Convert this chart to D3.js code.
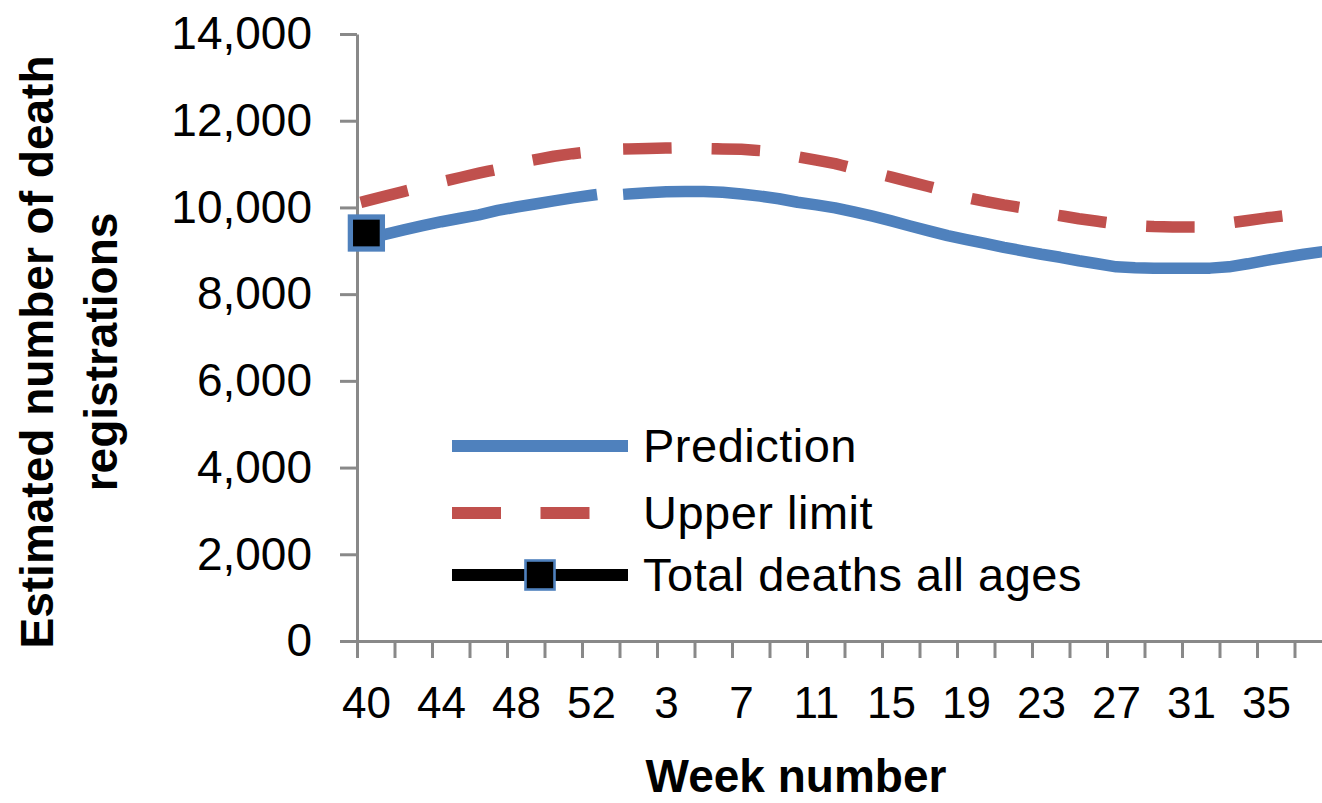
<!DOCTYPE html>
<html>
<head>
<meta charset="utf-8">
<script src="https://cdn.jsdelivr.net/npm/d3@7"></script>
<style>
  html, body { margin: 0; padding: 0; background: #ffffff; }
  svg { display: block; }
  text { font-family: "Liberation Sans", Arial, sans-serif; fill: #000; }
</style>
</head>
<body>
<svg id="chart" width="1322" height="803"></svg>
<script>
// ---- data ----
const weeks = [40,41,42,43,44,45,46,47,48,49,50,51,52,53,
  1,2,3,4,5,6,7,8,9,10,11,12,13,14,15,16,17,18,19,20,
  21,22,23,24,25,26,27,28,29,30,31,32,33,34,35,36,37,38,39];

const prediction = [9280,9380,9480,9580,9670,9750,9830,9930,10010,10080,10150,10220,10280,null,
  10310,10340,10360,10370,10370,10350,10310,10260,10200,10120,10060,9990,9900,9800,9690,9570,
  9460,9350,9260,9170,9080,9000,8920,8850,8770,8700,8630,8610,8600,8600,8600,8600,8630,8700,
  8780,8850,8920,8980,9040];

const upperLimit = [10150,10260,10370,10480,10590,10690,10790,10880,10990,11100,11180,11240,11290,null,
  11350,11360,11370,11370,11360,11350,11340,11310,11250,11170,11090,11010,10900,10800,10700,10590,
  10480,10360,10230,10140,10060,9990,9900,9810,9740,9680,9620,9580,9560,9550,9550,9570,9640,9700,
  9760,9810,9850,9880,9900];

const totalDeaths = [9410]; // only week 40 reported

const yTicks = [0,2000,4000,6000,8000,10000,12000,14000];
const xLabelWeeks = [40,44,48,52,3,7,11,15,19,23,27,31,35];

const seriesNames = ["Prediction", "Upper limit", "Total deaths all ages"];
const colors = { pred: "#4F81BD", upper: "#C0504D", total: "#000000", axis: "#898989" };

// ---- layout ----
(function draw() {
const svg = d3.select("#chart");
const pLeft = 357, pTop = 34, pBottom = 641, catW = 18.75;
const pRight = pLeft + weeks.length * catW;

const idx = d3.range(weeks.length);
const xBand = d3.scaleBand().domain(idx).range([pLeft, pRight]).paddingInner(0).paddingOuter(0);
const xLin = d3.scaleLinear().domain([0, weeks.length]).range([pLeft, pRight]);
const y = d3.scaleLinear().domain([0, 14000]).range([pBottom, pTop]);
const cx = i => xBand(i) + xBand.bandwidth() / 2;

svg.append("rect").attr("width", 1322).attr("height", 803).attr("fill", "#fff");

// y axis
const yAxis = svg.append("g").attr("transform", `translate(${pLeft},0)`)
  .call(d3.axisLeft(y).tickValues(yTicks).tickSize(17).tickSizeOuter(0).tickPadding(28)
    .tickFormat(d3.format(",")));
yAxis.selectAll("path, line").attr("stroke", colors.axis).attr("stroke-width", 3);
yAxis.selectAll("text").style("font-size", "46px").style("font-family", "'Liberation Sans', Arial, sans-serif").attr("fill", "#000");

// x axis ticks (category boundaries every 2 weeks)
const xTickAxis = svg.append("g").attr("transform", `translate(0,${pBottom})`)
  .call(d3.axisBottom(xLin).tickValues(d3.range(0, weeks.length, 2)).tickSize(17)
    .tickSizeOuter(0).tickFormat(""));
xTickAxis.selectAll("path, line").attr("stroke", colors.axis).attr("stroke-width", 3);

// x axis labels (category centers)
const labelIdx = idx.filter(i => i % 4 === 0 && xLabelWeeks.includes(weeks[i]));
const xLabelAxis = svg.append("g").attr("transform", `translate(0,${pBottom})`)
  .call(d3.axisBottom(xBand).tickValues(labelIdx).tickSize(0).tickPadding(46)
    .tickFormat(i => weeks[i]));
xLabelAxis.select(".domain").remove();
xLabelAxis.selectAll("text").style("font-size", "44px").style("font-family", "'Liberation Sans', Arial, sans-serif").attr("fill", "#000");

// axis titles
const yTitle = svg.append("text")
  .attr("transform", "rotate(-90)")
  .attr("text-anchor", "middle")
  .style("font-size", "46px").style("font-weight", "bold");
yTitle.append("tspan").attr("x", -352).attr("y", 53).text("Estimated number of death");
yTitle.append("tspan").attr("x", -352).attr("y", 117).text("registrations");

svg.append("text").attr("x", 796).attr("y", 792).attr("text-anchor", "middle")
  .style("font-size", "46px").style("font-weight", "bold").text("Week number");

// lines
const line = d3.line().defined(d => d[1] != null).x(d => cx(d[0])).y(d => y(d[1]));
const plot = svg.append("g");

plot.append("path").datum(prediction.map((v, i) => [i, v]))
  .attr("d", line).attr("fill", "none").attr("stroke", colors.pred)
  .attr("stroke-width", 11.5).attr("stroke-linecap", "square").attr("stroke-linejoin", "round");

// upper limit drawn per defined run so dashing restarts after the gap
const upperRuns = [];
let run = [];
upperLimit.forEach((v, i) => {
  if (v == null) { if (run.length) upperRuns.push(run); run = []; }
  else run.push([i, v]);
});
if (run.length) upperRuns.push(run);
plot.selectAll(".upper").data(upperRuns).join("path").attr("class", "upper")
  .attr("d", line).attr("fill", "none").attr("stroke", colors.upper)
  .attr("stroke-width", 11.5).attr("stroke-linecap", "square").attr("stroke-linejoin", "round")
  .attr("stroke-dasharray", "37 51.5");

const totalPts = totalDeaths.map((v, i) => [i, v]);
plot.append("path").datum(totalPts).attr("d", line).attr("fill", "none")
  .attr("stroke", colors.total).attr("stroke-width", 11.5);
plot.selectAll(".mk").data(totalPts).join("rect").attr("class", "mk")
  .attr("x", d => cx(d[0]) - 16).attr("y", d => y(d[1]) - 16)
  .attr("width", 32).attr("height", 32)
  .attr("fill", "#000").attr("stroke", colors.pred).attr("stroke-width", 5.3);

// legend
const legY = [446, 513, 575];
const lg = svg.append("g");
lg.append("line").attr("x1", 458).attr("x2", 622).attr("y1", legY[0]).attr("y2", legY[0])
  .attr("stroke", colors.pred).attr("stroke-width", 12).attr("stroke-linecap", "square");
lg.append("line").attr("x1", 458).attr("x2", 622).attr("y1", legY[1]).attr("y2", legY[1])
  .attr("stroke", colors.upper).attr("stroke-width", 12).attr("stroke-linecap", "square")
  .attr("stroke-dasharray", "37 51.5");
lg.append("line").attr("x1", 458).attr("x2", 622).attr("y1", legY[2]).attr("y2", legY[2])
  .attr("stroke", colors.total).attr("stroke-width", 12).attr("stroke-linecap", "square");
lg.append("rect").attr("x", 540 - 14.5).attr("y", legY[2] - 14.5).attr("width", 29).attr("height", 29)
  .attr("fill", "#000").attr("stroke", colors.pred).attr("stroke-width", 2.6);
lg.selectAll(".lt").data(seriesNames).join("text").attr("class", "lt")
  .attr("x", 643).attr("y", (d, i) => legY[i] + 16)
  .style("font-size", "47px").style("letter-spacing", "0.5px").text(d => d);
})();
</script>
</body>
</html>
